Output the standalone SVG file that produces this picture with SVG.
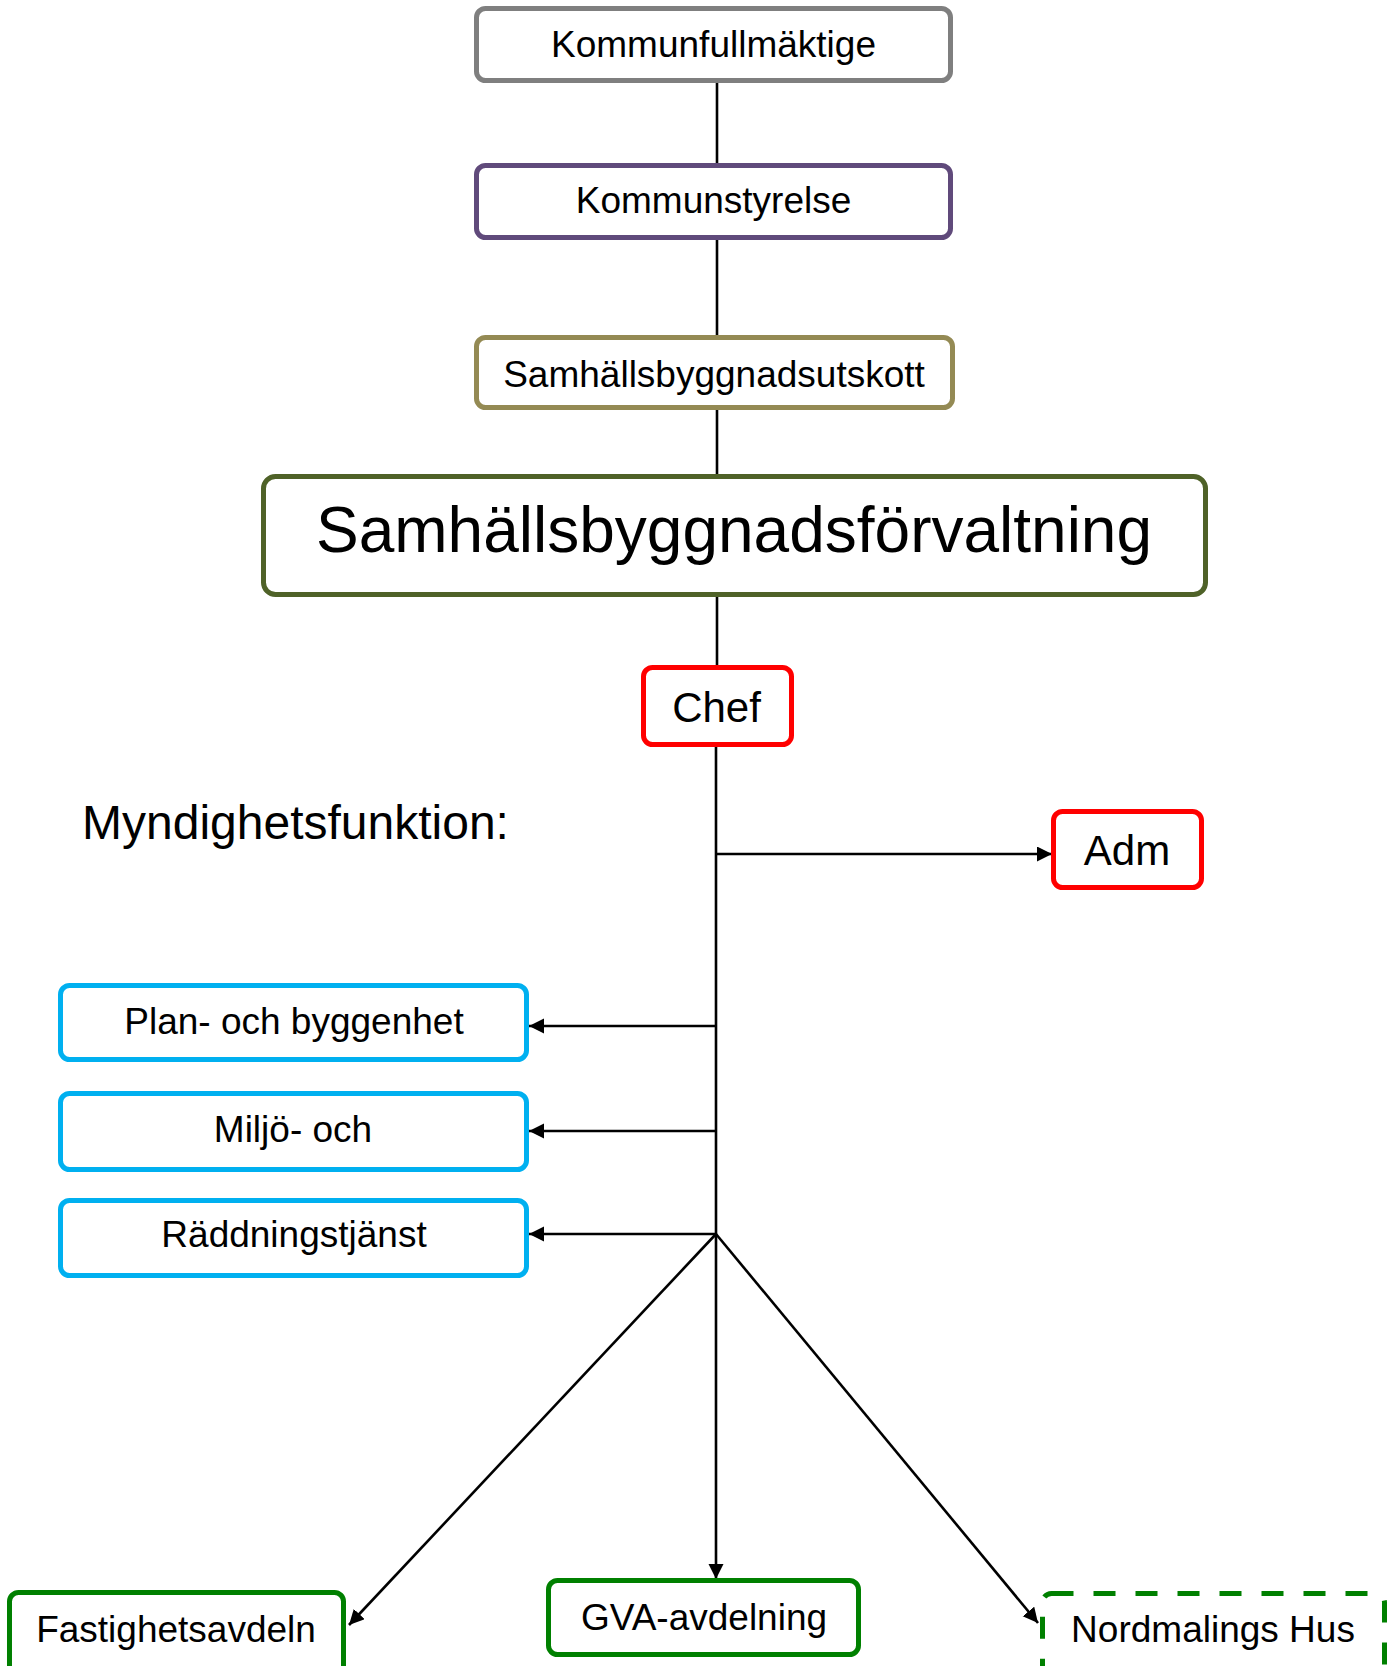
<svg xmlns="http://www.w3.org/2000/svg" width="1397" height="1666" viewBox="0 0 1397 1666">
<style>
.box{fill:#fff;stroke-width:5}
.t{font-family:"Liberation Sans",Arial,sans-serif;fill:#000;text-anchor:middle}
.s36{font-size:37px}
.s42{font-size:42px}
.c{stroke:#000;stroke-width:2.6;fill:none}
.ca{stroke:#000;stroke-width:2.6;fill:none;marker-end:url(#ah)}
</style>
<defs>
<marker id="ah" markerUnits="userSpaceOnUse" markerWidth="16" markerHeight="16" refX="15" refY="7.5" orient="auto">
<path d="M0,0 L15,7.5 L0,15 z" fill="#000"/>
</marker>
</defs>
<rect width="1397" height="1666" fill="#fff"/>
<g id="connectors">
<line class="c" x1="717" y1="83" x2="717" y2="164" stroke-width="3"/>
<line class="c" x1="717" y1="240" x2="717" y2="336"/>
<line class="c" x1="717" y1="410" x2="717" y2="475"/>
<line class="c" x1="717" y1="597" x2="717" y2="666"/>
<line class="c" x1="716" y1="739" x2="716" y2="1234"/>
<line class="ca" x1="716" y1="854" x2="1052" y2="854"/>
<line class="ca" x1="716" y1="1026" x2="529" y2="1026"/>
<line class="ca" x1="716" y1="1131" x2="529" y2="1131"/>
<line class="ca" x1="716" y1="1234" x2="529" y2="1234"/>
<line class="ca" x1="716" y1="1234" x2="716" y2="1579"/>
<line class="ca" x1="716" y1="1234" x2="349" y2="1625"/>
<line class="ca" x1="716" y1="1234" x2="1038" y2="1623"/>
</g>
<g id="kommunfullmaktige">
<rect class="box" x="476.5" y="8.5" width="474" height="72" rx="9" stroke="#7F7F7F"/>
<text class="t s36" x="713.5" y="57">Kommunfullmäktige</text>
</g>
<g id="kommunstyrelse">
<rect class="box" x="476.5" y="165.5" width="474" height="72" rx="9" stroke="#604A7B"/>
<text class="t s36" x="713.5" y="213">Kommunstyrelse</text>
</g>
<g id="samhallsbyggnadsutskott">
<rect class="box" x="476.5" y="337.5" width="476" height="70" rx="9" stroke="#948A54"/>
<text class="t s36" x="714" y="387">Samhällsbyggnadsutskott</text>
</g>
<g id="samhallsbyggnadsforvaltning">
<rect class="box" x="263.5" y="476.5" width="942" height="118" rx="12" stroke="#4F6228"/>
<text class="t" x="734" y="552" font-size="64">Samhällsbyggnadsförvaltning</text>
</g>
<g id="chef">
<rect class="box" x="643.5" y="667.5" width="148" height="77" rx="9" stroke="#FF0000"/>
<text class="t s42" x="716.5" y="722">Chef</text>
</g>
<g id="adm">
<rect class="box" x="1053.5" y="811.5" width="148" height="76" rx="9" stroke="#FF0000"/>
<text class="t s42" x="1127" y="865">Adm</text>
</g>
<g id="myndighetsfunktion">
<text class="t" x="82" y="839" font-size="48" text-anchor="start" style="text-anchor:start">Myndighetsfunktion:</text>
</g>
<g id="plan">
<rect class="box" x="60.5" y="985.5" width="466" height="74" rx="9" stroke="#00B0F0"/>
<text class="t s36" x="294" y="1034">Plan- och byggenhet</text>
</g>
<g id="miljo">
<rect class="box" x="60.5" y="1093.5" width="466" height="76" rx="9" stroke="#00B0F0"/>
<text class="t s36" x="293" y="1142">Miljö- och</text>
</g>
<g id="raddningstjanst">
<rect class="box" x="60.5" y="1200.5" width="466" height="75" rx="9" stroke="#00B0F0"/>
<text class="t s36" x="294" y="1247">Räddningstjänst</text>
</g>
<g id="fastighetsavdeln">
<rect class="box" x="9.5" y="1592.5" width="334" height="90" rx="9" stroke="#008000"/>
<text class="t s36" x="176" y="1642">Fastighetsavdeln</text>
</g>
<g id="gva">
<rect class="box" x="548.5" y="1580.5" width="310" height="74" rx="9" stroke="#008000"/>
<text class="t s36" x="704" y="1630">GVA-avdelning</text>
</g>
<g id="nordmalings">
<rect class="box" x="1042.5" y="1593.5" width="342" height="90" rx="9" stroke="#008000" stroke-dasharray="22 20"/>
<text class="t s36" x="1213" y="1642">Nordmalings Hus</text>
</g>
</svg>
